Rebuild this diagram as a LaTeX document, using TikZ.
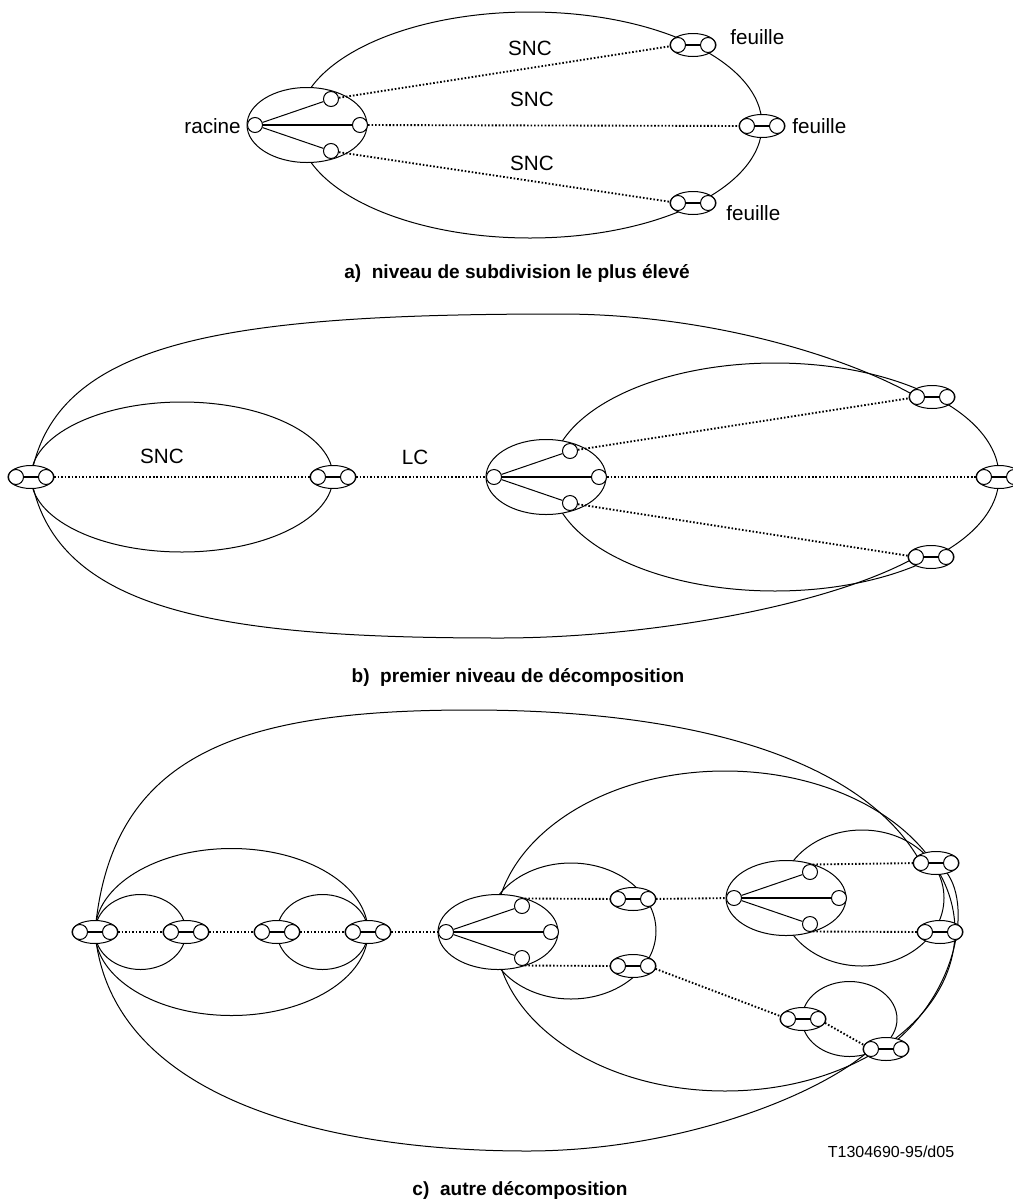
\documentclass[tikz,border=0pt]{standalone}
\usepackage{fontspec}
\setmainfont{Liberation Sans}
\usetikzlibrary{shapes.geometric}
\pgfdeclarelayer{bg}
\pgfsetlayers{bg,main}
\tikzset{
  thinl/.style={line width=0.75pt},
  thickl/.style={line width=1.8pt},
  net/.style={line width=0.75pt},
  dotl/.style={line width=1.4pt, dash pattern=on 1.2pt off 1.45pt},
  dotc/.style={circle, draw, fill=white, line width=0.75pt, inner sep=0pt, minimum size=11.25pt},
  pairbox/.style={ellipse, draw, fill=white, line width=0.75pt, inner sep=0pt, minimum width=34.5pt, minimum height=17.25pt},
  rootbox/.style={ellipse, draw, fill=white, line width=0.75pt, inner sep=0pt, minimum width=90pt, minimum height=56.25pt},
  lbl/.style={font=\fontsize{15.5}{18}\selectfont, inner sep=0pt},
  capt/.style={font=\fontsize{14.3}{17}\selectfont\bfseries, inner sep=0pt},
  reflbl/.style={font=\fontsize{12}{14}\selectfont, inner sep=0pt},
}
\newcommand\pairnode[2]{%
  \node[pairbox] (#1) at (#2) {};
  \node[dotc] (#1-l) at ([xshift=-11.25pt]#1.center) {};
  \node[dotc] (#1-r) at ([xshift=11.25pt]#1.center) {};
  \draw[thickl] (#1-l) -- (#1-r);
}
\newcommand\rootnode[2]{%
  \node[rootbox] (#1) at (#2) {};
  \node[dotc] (#1-L) at ([xshift=-39pt]#1.center) {};
  \node[dotc] (#1-T) at ([shift={(18pt,19.5pt)}]#1.center) {};
  \node[dotc] (#1-R) at ([xshift=39.75pt]#1.center) {};
  \node[dotc] (#1-B) at ([shift={(18pt,-19.5pt)}]#1.center) {};
  \draw[thinl] (#1-L) -- (#1-T);
  \draw[thinl] (#1-L) -- (#1-B);
  \draw[thickl] (#1-L) -- (#1-R);
}
\begin{document}
\begin{tikzpicture}[x=0.75pt,y=-0.75pt]
\useasboundingbox (0,0) rectangle (1013,1200);

% ---------------- a) ----------------
\begin{pgfonlayer}{bg}
  \draw[net] (530,125) ellipse [x radius=232, y radius=113];
\end{pgfonlayer}
\rootnode{ra}{307,125}
\pairnode{fa1}{693,45}
\pairnode{fa2}{762,126}
\pairnode{fa3}{693,203}
\draw[dotl] (ra-T) -- (fa1-l);
\draw[dotl] (ra-R) -- (fa2-l);
\draw[dotl] (ra-B) -- (fa3-l);
\node[lbl, anchor=east] (tracine) at (241,126) {racine};
\node[lbl] (tsnc1) at (530,48) {SNC};
\node[lbl] (tsnc2) at (532,99) {SNC};
\node[lbl] (tsnc3) at (532,163) {SNC};
\node[lbl, anchor=west] (tf1) at (730,37) {feuille};
\node[lbl, anchor=west] (tf2) at (792,126) {feuille};
\node[lbl, anchor=west] (tf3) at (726,213) {feuille};
\node[capt] (capa) at (517,273) {a)~~niveau de subdivision le plus élevé};

% ---------------- b) ----------------
\pairnode{b1}{31,477}
\pairnode{b2}{333,477}
\rootnode{rb}{546,477}
\pairnode{b3}{932,397}
\pairnode{b4}{999,477}
\pairnode{b5}{931,557}
\begin{pgfonlayer}{bg}
  \draw[net] (182,477) ellipse [x radius=151, y radius=75];
  \draw[net] (775,477) ellipse [x radius=224, y radius=114];
  \draw[net] (b1.center) .. controls (55,339) and (230,314) .. (560,314)
                         .. controls (710,314) and (848,357) .. (b3-l.center);
  \draw[net] (b1.center) .. controls (55,615) and (230,638) .. (500,638)
                         .. controls (650,638) and (831,605) .. (b5-l.center);
\end{pgfonlayer}
\draw[dotl] (b1-r) -- (b2-l);
\draw[dotl] (b2-r) -- (rb-L);
\draw[dotl] (rb-T) -- (b3-l);
\draw[dotl] (rb-R) -- (b4-l);
\draw[dotl] (rb-B) -- (b5-l);
\node[lbl] (tsncb) at (162,456) {SNC};
\node[lbl] (tlc) at (415,457) {LC};
\node[capt] (capb) at (518,677) {b)~~premier niveau de décomposition};

% ---------------- c) ----------------
\pairnode{c1}{95,932}
\pairnode{c2}{186,932}
\pairnode{c3}{277,932}
\pairnode{c4}{368,932}
\rootnode{rc1}{498,932}
\pairnode{p1}{633,899}
\pairnode{p2}{633,966}
\rootnode{rc2}{786,898}
\pairnode{tr}{936,863}
\pairnode{mr}{940,932}
\pairnode{sn}{803,1019}
\pairnode{br}{886,1049}
\begin{pgfonlayer}{bg}
  \draw[net] (140.5,932) ellipse [x radius=45.5, y radius=37.5];
  \draw[net] (322.5,932) ellipse [x radius=45.5, y radius=37.5];
  \draw[net] (231.5,932) ellipse [x radius=136.5, y radius=83.5];
  \draw[net] (c1.center) .. controls (111,753) and (240,710) .. (470,710)
                         .. controls (720,710) and (870,770) .. (tr-l.center);
  \draw[net] (c1.center) .. controls (110,1100) and (330,1151) .. (527,1151)
                         .. controls (680,1151) and (820,1095) .. (br-l.center);
  \draw[net] (tr.center) .. controls (975,885) and (965,990) .. (br.center);
  \draw[net] (725,931) ellipse [x radius=230, y radius=160];
  \draw[net] (571,931) ellipse [x radius=85, y radius=68];
  \draw[net] (862,898) ellipse [x radius=82, y radius=68];
  \draw[net] (849.5,1019) ellipse [x radius=47.5, y radius=37.5];
\end{pgfonlayer}
\draw[dotl] (c1-r) -- (c2-l);
\draw[dotl] (c2-r) -- (c3-l);
\draw[dotl] (c3-r) -- (c4-l);
\draw[dotl] (c4-r) -- (rc1-L);
\draw[dotl] (rc1-T.70) -- (p1-l);
\draw[dotl] (rc1-B.-70) -- (p2-l);
\draw[dotl] (p1-r) -- (rc2-L);
\draw[dotl] (rc2-T.70) -- (tr-l);
\draw[dotl] (rc2-B.-70) -- (mr-l);
\draw[dotl] (p2-r) -- (sn-l);
\draw[dotl] (sn-r) -- (br-l);
\node[reflbl] (tref) at (891,1152) {T1304690-95/d05};
\node[capt] (capc) at (520,1190) {c)~~autre décomposition};
\end{tikzpicture}
\end{document}
